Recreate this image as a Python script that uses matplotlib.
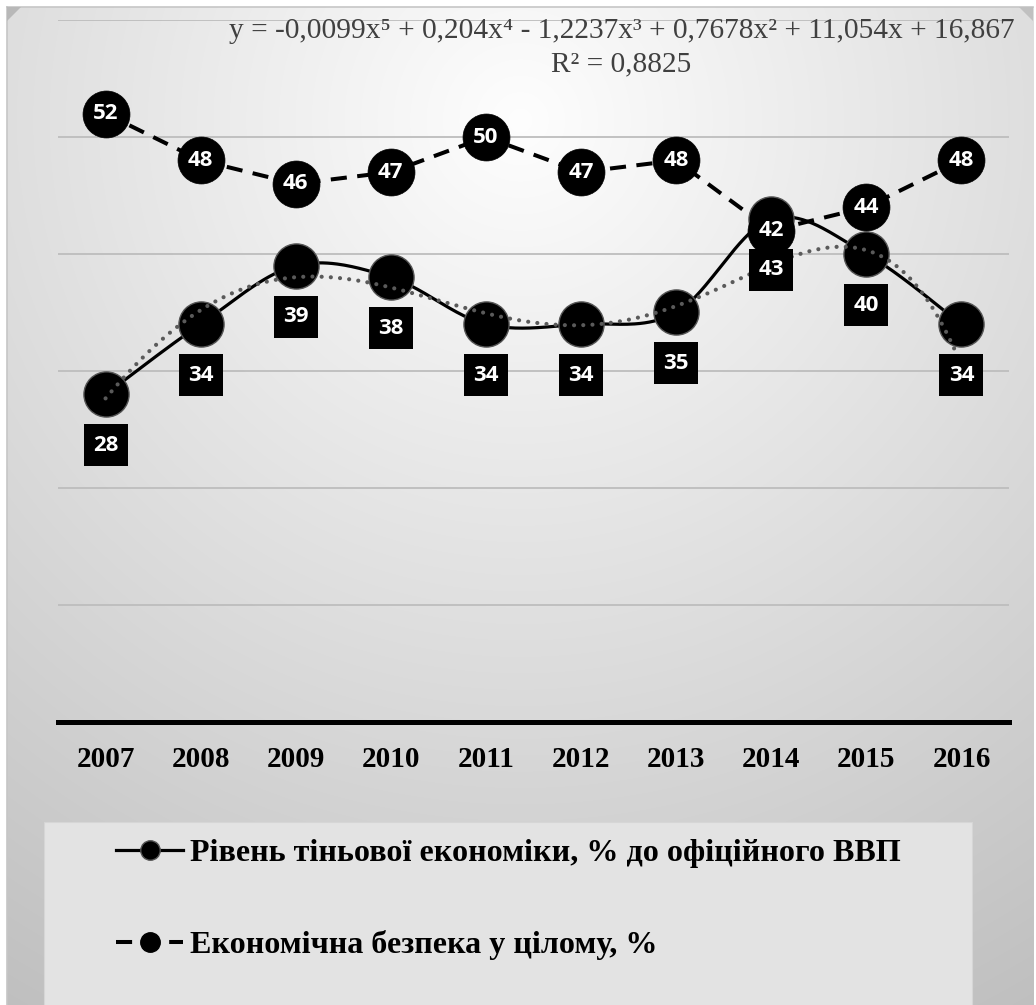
import numpy as np
import matplotlib
matplotlib.use("Agg")
import matplotlib.pyplot as plt
from matplotlib.lines import Line2D
from matplotlib.patches import Rectangle, Polygon
from matplotlib.transforms import offset_copy

# ---------------- data ----------------
years = ["2007", "2008", "2009", "2010", "2011", "2012", "2013", "2014", "2015", "2016"]
shadow_economy = [28, 34, 39, 38, 34, 34, 35, 43, 40, 34]
economic_security = [52, 48, 46, 47, 50, 47, 48, 42, 44, 48]
trend_coefs = [-0.0099, 0.204, -1.2237, 0.7678, 11.054, 16.867]
trend_equation = "y = -0,0099x\u2075 + 0,204x\u2074 - 1,2237x\u00b3 + 0,7678x\u00b2 + 11,054x + 16,867"
trend_r2 = "R\u00b2 = 0,8825"
label_shadow = "Рівень тіньової економіки, % до офіційного ВВП"
label_security = "Економічна безпека у цілому, %"
y_ticks = [0, 10, 20, 30, 40, 50, 60]

SERIF = ["Liberation Serif", "DejaVu Serif"]
SANS = ["Open Sans", "DejaVu Sans"]

W, H = 1036, 1005
fig = plt.figure(figsize=(W / 100, H / 100), dpi=100)
fig.patch.set_facecolor("white")

# ---------------- background ----------------
bg = fig.add_axes([0, 0, 1, 1])
bg.set_xlim(0, W)
bg.set_ylim(H, 0)
bg.axis("off")
yy, xx = np.mgrid[0:H, 0:W]
d = np.hypot(xx - 520, (yy - 120) * 1.0)
c = 0.995 - 0.245 * np.clip(d / 1024, 0, 1)
c[(xx < 7) | (yy < 7) | (xx > 1033)] = 1.0
img = np.dstack([c, c, c])
bg.imshow(img, extent=(0, W, H, 0), aspect="auto", interpolation="bilinear", zorder=0)
bg.plot([7, 1033], [7, 7], color="#c6c6c6", lw=1.2, zorder=1)
bg.plot([7, 7], [7, H], color="#c6c6c6", lw=1.2, zorder=1)
bg.add_patch(Polygon([(7, 7), (21, 7), (7, 21)], closed=True, fc="#b8b8b8", ec="none", zorder=1))
bg.add_patch(Polygon([(1019, 7), (1033, 7), (1033, 21)], closed=True, fc="#c0c0c0", ec="none", zorder=1))
# legend panel
bg.add_patch(Rectangle((44, 822), 928, 190, fc="#e3e3e3", ec="#d6d6d6", lw=0.8, zorder=1))

# ---------------- main axes ----------------
ax = fig.add_axes([58 / W, 1 - 722 / H, 951 / W, 702 / H])
ax.set_facecolor("none")
x = np.arange(len(years))
ax.set_xlim(-0.5, len(years) - 0.5)
ax.set_ylim(0, 60)
for s in ["top", "left", "right"]:
    ax.spines[s].set_visible(False)
ax.spines["bottom"].set_linewidth(3.6)
ax.spines["bottom"].set_color("black")
ax.set_yticks(y_ticks)
ax.yaxis.grid(True, color="#bdbdbd", lw=1.3)
ax.set_axisbelow(True)
ax.tick_params(axis="y", length=0, labelleft=False)
ax.set_xticks(x)
ax.set_xticklabels(years, fontfamily=SERIF, fontweight="bold", fontsize=21)
ax.tick_params(axis="x", length=0, pad=17)


def smooth(xs, ys, n=40):
    P = np.column_stack([xs, ys]).astype(float)
    E = np.vstack([P[0], P, P[-1]])
    out = []
    for i in range(len(P) - 1):
        p0, p1, p2, p3 = E[i], E[i + 1], E[i + 2], E[i + 3]
        c1 = p1 + (p2 - p0) / 6
        c2 = p2 - (p3 - p1) / 6
        t = np.linspace(0, 1, n)[:, None]
        seg = (1 - t) ** 3 * p1 + 3 * (1 - t) ** 2 * t * c1 + 3 * (1 - t) * t ** 2 * c2 + t ** 3 * p2
        out.append(seg if i == 0 else seg[1:])
    return np.vstack(out)


sm = smooth(x, shadow_economy)
ax.plot(sm[:, 0], sm[:, 1], color="black", lw=2.3, zorder=2, solid_capstyle="round")
ax.plot(x, shadow_economy, "o", ms=32.5, mfc="black", mec="#555555", mew=1.0, zorder=2.1)

ax.plot(x, economic_security, color="black", lw=2.9, ls=(0, (4, 2.6)), zorder=3)
ax.plot(x, economic_security, "o", ms=33.8, mfc="black", mec="black", mew=0.5, zorder=3.1)

# polynomial trendline (from the displayed equation)
xt = np.linspace(0, len(years) - 1, 400)
yt = np.polyval(trend_coefs, xt + 1)
tl, = ax.plot(xt, yt, color="#5a5a5a", lw=3.0, zorder=4)
tl.set_dashes([0.01, 2.2])
tl.set_dash_capstyle("round")

# data labels
below = offset_copy(ax.transData, fig=fig, x=0, y=-51, units="dots")
rect = [(-22, -21), (22, -21), (22, 21), (-22, 21), (-22, -21)]
ax.plot(x, shadow_economy, ls="none", marker=rect, ms=31.7, mfc="black", mec="black", mew=0,
        transform=below, zorder=5)
for xi, v in zip(x, shadow_economy):
    ax.text(xi, v, str(v), transform=below, ha="center", va="center", color="white",
            fontfamily=SANS, fontweight="bold", fontsize=16, zorder=6)
for xi, v in zip(x, economic_security):
    ax.text(xi, v, str(v), ha="center", va="center", color="white",
            fontfamily=SANS, fontweight="bold", fontsize=16, zorder=6)

# trendline equation
fig.text(622 / W, 1 - 38 / H, trend_equation, ha="center", va="baseline",
         fontfamily=SERIF, fontsize=21.2, color="#404040")
fig.text(621 / W, 1 - 71 / H, trend_r2, ha="center", va="baseline",
         fontfamily=SERIF, fontsize=21.2, color="#404040")

# legend
h1 = Line2D([], [], color="black", lw=2.3, marker="o", ms=14, mfc="black", mec="#555555", mew=1)
h2 = Line2D([], [], color="black", lw=2.9, ls=(0, (4, 2.6)), marker="o", ms=14, mfc="black", mec="black")
fig.legend([h1, h2], [label_shadow, label_security], loc="upper left",
           bbox_to_anchor=(116 / W, 1 - 839 / H), frameon=False, borderpad=0, borderaxespad=0,
           prop={"family": SERIF, "weight": "bold", "size": 23.1},
           handlelength=2.1, handletextpad=0.22, labelspacing=1.93)

fig.savefig("out.png", dpi=100)
